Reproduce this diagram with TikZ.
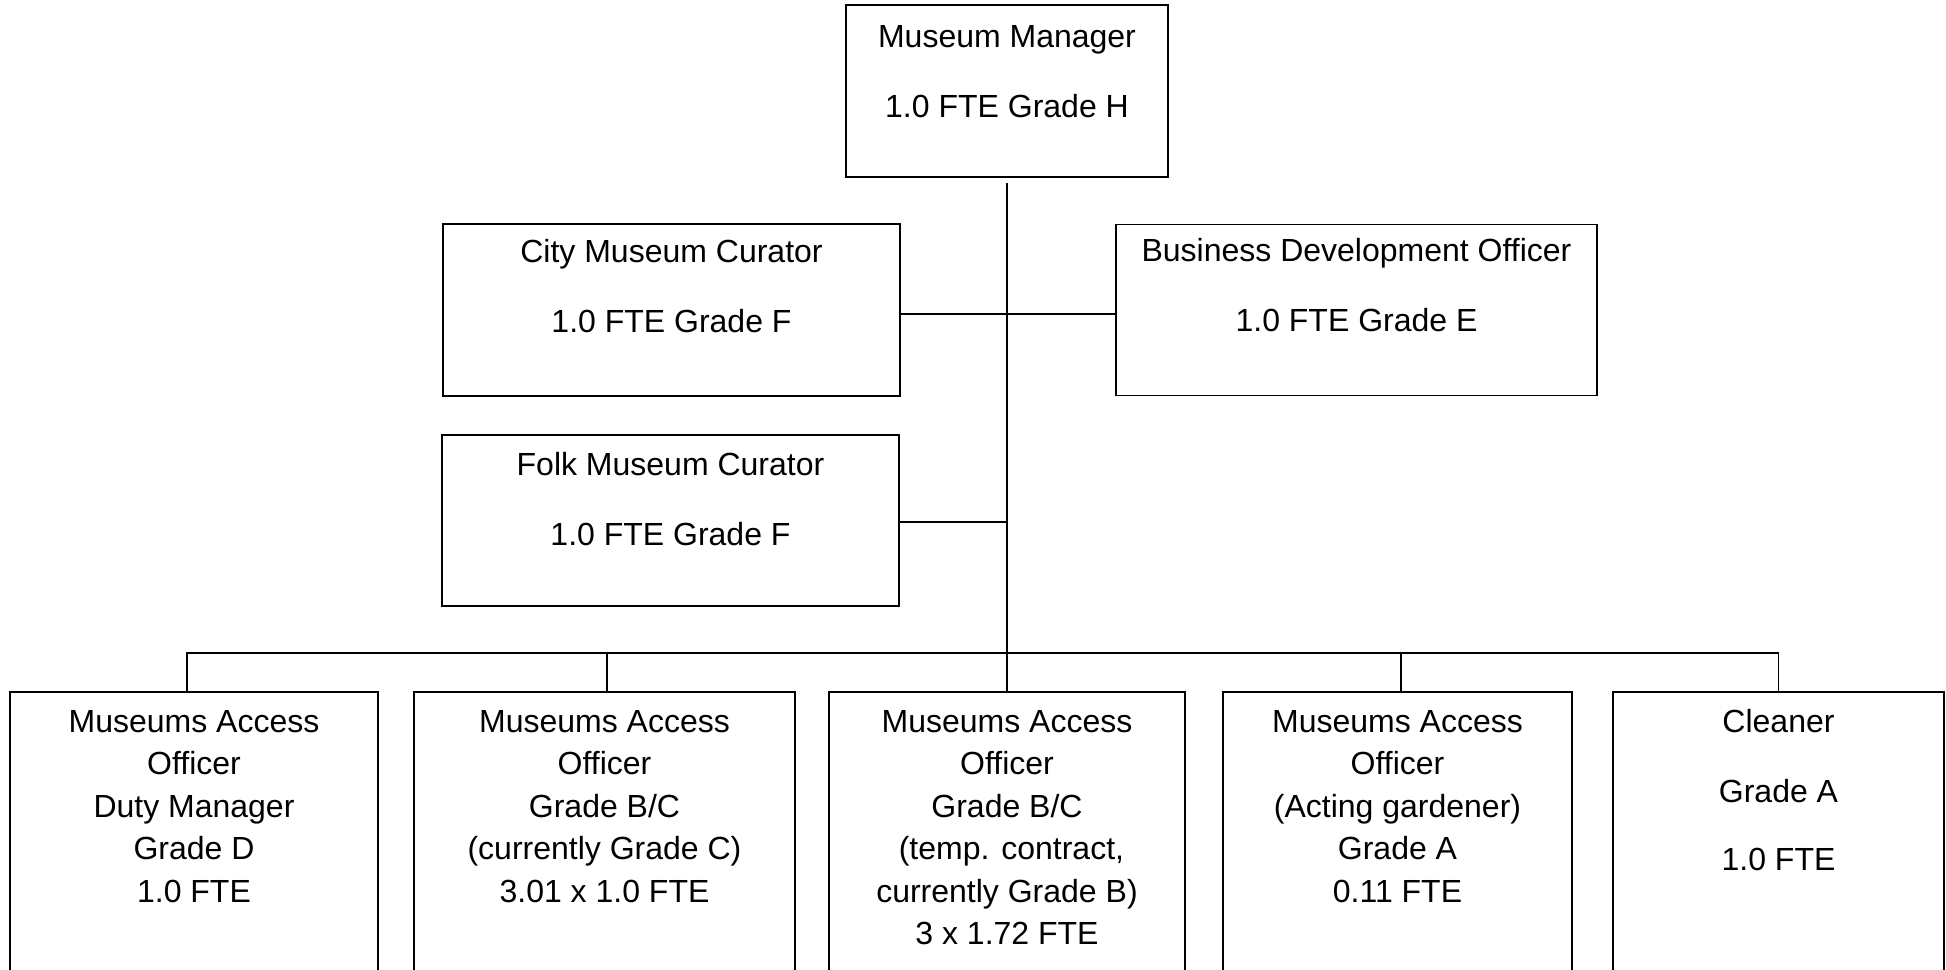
\documentclass[tikz,border=0pt]{standalone}
\usepackage{fontspec}
\setmainfont{Liberation Sans}
\begin{document}
\begin{tikzpicture}[x=1pt,y=-1pt,
  box/.style={draw=black, line width=1.3pt, rectangle, inner sep=0pt},
  lbl/.style={inner sep=0pt, anchor=base, font=\fontsize{32}{42.5}\selectfont},
  conn/.style={draw=black, line width=1.3pt}]
\useasboundingbox (0,0) rectangle (1946,969);
\clip (0,0) rectangle (1946,969);
% boxes
\node[box, minimum width=322pt, minimum height=172pt] (mgr) at (1007,91) {};
\node[box, minimum width=457pt, minimum height=172pt] (city) at (671.5,310) {};
\node[box, minimum width=481pt, minimum height=171pt] (bdo) at (1356.5,310) {};
\node[box, minimum width=457pt, minimum height=171pt] (folk) at (670.5,520.5) {};
\node[box, minimum width=368pt, minimum height=400pt] (b1) at (194,892) {};
\node[box, minimum width=381pt, minimum height=400pt] (b2) at (604.5,892) {};
\node[box, minimum width=356pt, minimum height=400pt] (b3) at (1007,892) {};
\node[box, minimum width=349pt, minimum height=400pt] (b4) at (1397.5,892) {};
\node[box, minimum width=331pt, minimum height=400pt] (b5) at (1778.5,892) {};
% texts
\node[lbl] (tmgr) at (1007,47) {\begin{tabular}[t]{@{}c@{}}Museum Manager\\[27.5pt]1.0 FTE Grade H\end{tabular}};
\node[lbl] (tcity) at (671.5,262) {\begin{tabular}[t]{@{}c@{}}City Museum Curator\\[27.5pt]1.0 FTE Grade F\end{tabular}};
\node[lbl] (tbdo) at (1356.5,261) {\begin{tabular}[t]{@{}c@{}}Business Development Officer\\[27.5pt]1.0 FTE Grade E\end{tabular}};
\node[lbl] (tfolk) at (670.5,475) {\begin{tabular}[t]{@{}c@{}}Folk Museum Curator\\[27.5pt]1.0 FTE Grade F\end{tabular}};
\node[lbl] (tb1) at (194,732) {\begin{tabular}[t]{@{}c@{}}Museums Access\\Officer\\Duty Manager\\Grade D\\1.0 FTE\end{tabular}};
\node[lbl] (tb2) at (604.5,732) {\begin{tabular}[t]{@{}c@{}}Museums Access\\Officer\\Grade B/C\\(currently Grade C)\\3.01 x 1.0 FTE\end{tabular}};
\node[lbl] (tb3) at (1007,732) {\begin{tabular}[t]{@{}c@{}}Museums Access\\Officer\\Grade B/C\\\hspace*{8.9pt}(temp. contract,\\currently Grade B)\\3 x 1.72 FTE\end{tabular}};
\node[lbl] (tb4) at (1397.5,732) {\begin{tabular}[t]{@{}c@{}}Museums Access\\Officer\\(Acting gardener)\\Grade A\\0.11 FTE\end{tabular}};
\node[lbl] (tb5) at (1778.5,732) {\begin{tabular}[t]{@{}c@{}}Cleaner\\[27.5pt]Grade A\\[26pt]1.0 FTE\end{tabular}};
% connectors
\coordinate (bus) at (1007,653);
\coordinate (j1) at (1007,314);
\coordinate (j2) at (1007,522);
\coordinate (top) at ([yshift=-5pt]mgr.south);
\coordinate (d1) at ([xshift=-7pt]b1.north);
\coordinate (d2) at ([xshift=2.5pt]b2.north);
\coordinate (d4) at ([xshift=3.5pt]b4.north);
\draw[conn] (top) -- (b3.north);
\draw[conn] (city.east |- j1) -- (bdo.west |- j1);
\draw[conn] (folk.east |- j2) -- (j2);
\draw[conn] (d1) -- (d1 |- bus) -- (b5.north |- bus) -- (b5.north);
\draw[conn] (d2) -- (d2 |- bus);
\draw[conn] (d4) -- (d4 |- bus);
\end{tikzpicture}
\end{document}
